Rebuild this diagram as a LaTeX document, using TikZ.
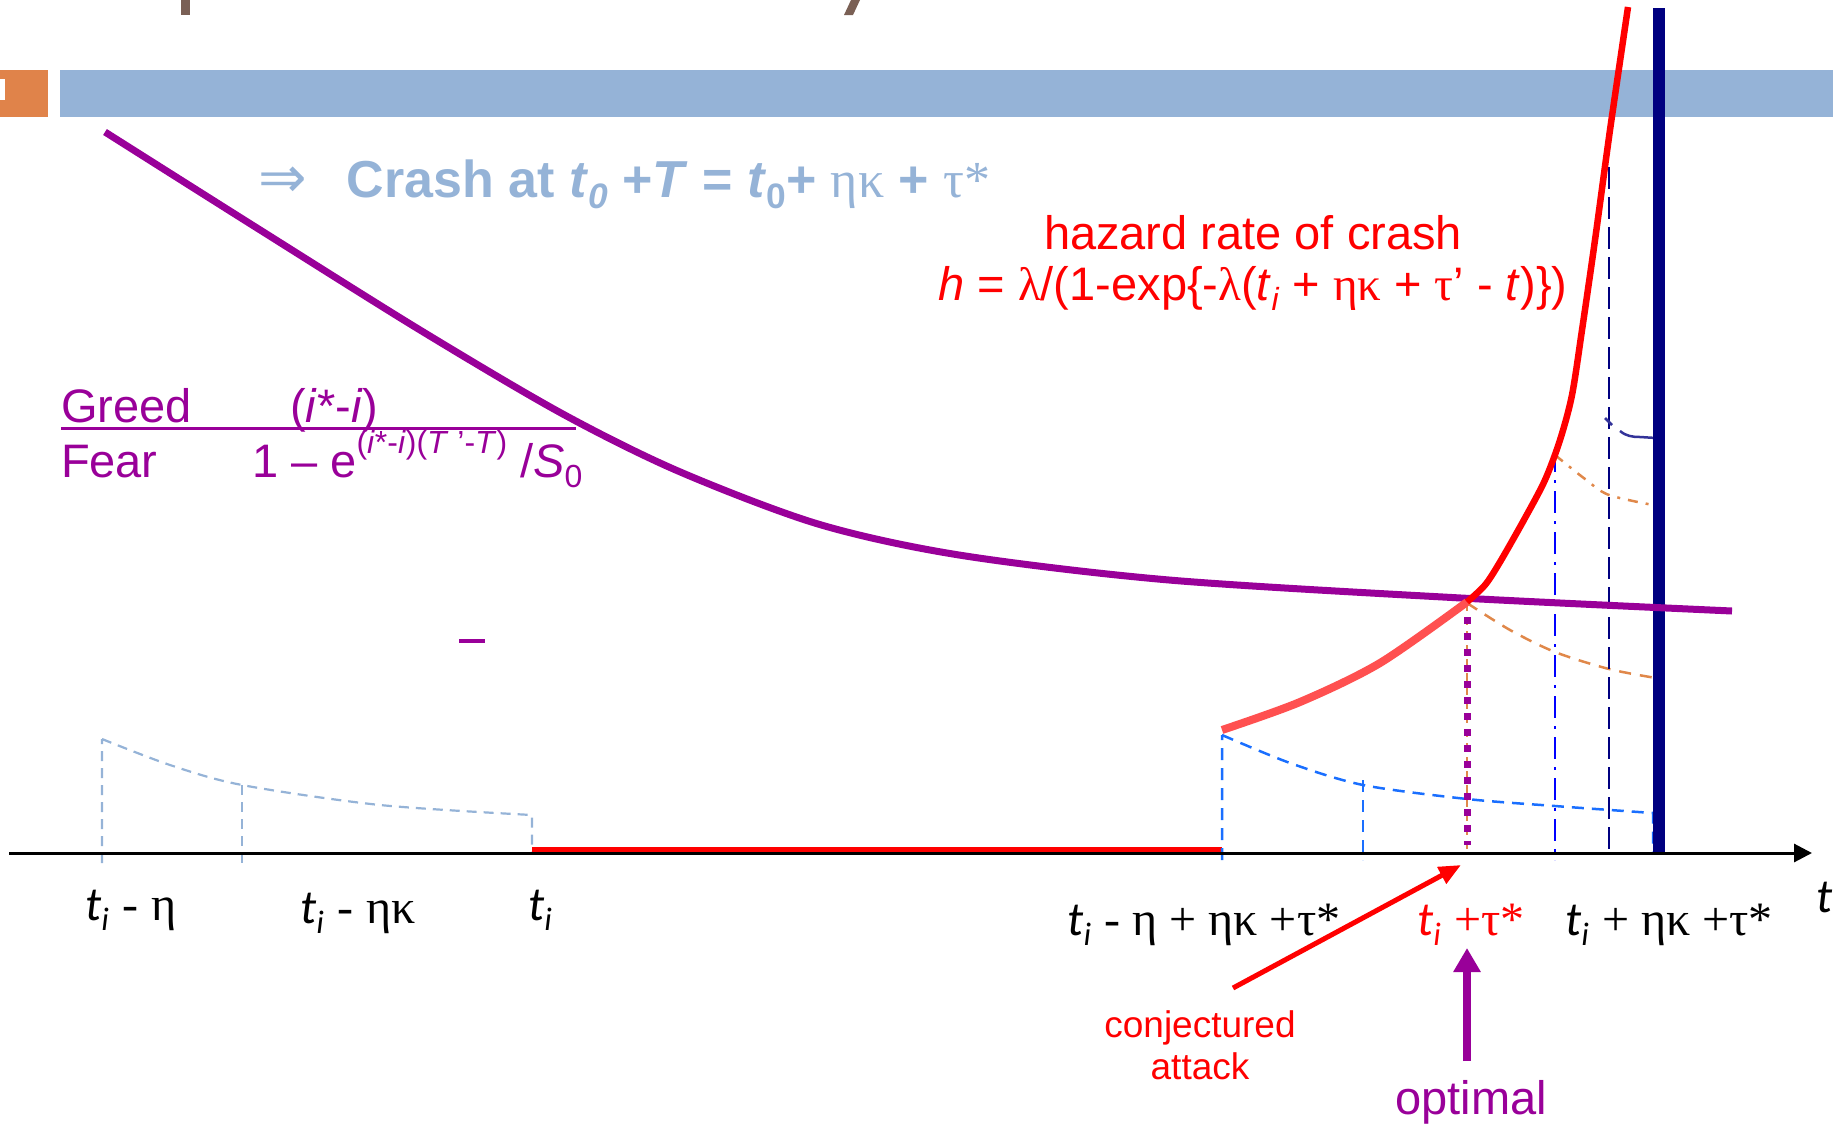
\documentclass[tikz,border=0pt]{standalone}
\usepackage{fontspec}
\usepackage{graphicx}
\setmainfont{Liberation Sans}
\newfontfamily\fgr{Liberation Serif}
\newfontfamily\fcb{Carlito}
\newfontfamily\fdj{DejaVu Sans}
\usetikzlibrary{arrows.meta}
\definecolor{barblue}{HTML}{95B3D7}
\definecolor{barorange}{HTML}{E0834A}
\definecolor{hbrown}{HTML}{7A6055}
\definecolor{purp}{HTML}{990099}
\definecolor{lred}{HTML}{FF5050}
\definecolor{navy}{HTML}{000080}
\definecolor{dblue}{HTML}{1A6FFF}
\definecolor{orng}{HTML}{E0884A}
\definecolor{squig}{HTML}{333399}
\newcommand\dn[1]{\raisebox{-0.22em}{\scalebox{0.68}{#1}}}
\newcommand\up[1]{\raisebox{0.5em}{\scalebox{0.68}{#1}}}
\newcommand\tlab[1]{{\fcb\itshape t}\dn{\fcb\itshape i}#1}
\begin{document}
\begin{tikzpicture}[x=1pt,y=-1pt,
  every node/.style={inner sep=0pt,outer sep=0pt},
  txt/.style={font=\fontsize{47}{52}\selectfont},
  lab/.style={font=\fontsize{48}{52}\selectfont},
  ltdash/.style={barblue,line width=2.2,dash pattern=on 10pt off 7pt},
  bldash/.style={dblue,line width=2.5,dash pattern=on 12pt off 8pt},
  ordash/.style={orng,line width=2.5,dash pattern=on 12pt off 9pt},
  ordot/.style={orng,line width=2.5,dash pattern=on 10pt off 8pt on 3pt off 8pt},
  bldot/.style={blue,line width=2.5,dash pattern=on 22pt off 8pt on 3pt off 8pt},
  nvdash/.style={navy,line width=2.5,dash pattern=on 22pt off 8pt}]
\useasboundingbox (0,0) rectangle (1833,1127);
% header fragments
\fill[hbrown] (181,0) rectangle (190,15);
\fill[hbrown] (851,0) -- (860,0) -- (853,15) -- (844,15) -- cycle;
\fill[barorange] (0,70) rectangle (48,117);
\fill[white] (0,79) rectangle (5,100);
\fill[barblue] (60,70) rectangle (1833,117);
% title line
\node[anchor=base west,text=barblue,font=\fontsize{52}{56}\selectfont] (crash) at (258,197)
  {{\fdj\fontsize{58}{60}\selectfont ⇒}\hspace{40pt}\bfseries Crash at \textit{t}\dn{\textit{0}} +\textit{T} = \textit{t}\dn{0}+ {\fgr\mdseries ηκ} + {\fgr\mdseries τ*}};
% hazard text
\node[anchor=base,text=red,txt] (hz1) at (1253,249) {hazard rate of crash};
\node[anchor=base,text=red,txt] (hz2) at (1253,300)
  {\textit{h} = {\fgr λ}/(1-exp\{-{\fgr λ}(\textit{t}\dn{\textit{i}} + {\fgr ηκ} + {\fgr τ}’ - \textit{t})\})};
% greed / fear
\node[anchor=base west,text=purp,txt] (greed) at (61,422) {Greed};
\node[anchor=base west,text=purp,txt] (gnum) at (290,422) {(\textit{i}*-\textit{i})};
\node[anchor=base west,text=purp,txt] (fear) at (61,477) {Fear};
\node[anchor=base west,text=purp,txt] (fden) at (252,477)
  {1 – e\up{(\textit{i}*-\textit{i})(\textit{T} ’-\textit{T})} /\textit{S}\dn{0}};
\coordinate (fl1) at (61,428); \coordinate (fl2) at (576,428);
\draw[purp,line width=3] (fl1) -- (fl2);
\coordinate (pd1) at (459,641); \coordinate (pd2) at (485,641);
\draw[purp,line width=4] (pd1) -- (pd2);
% left light-blue dashed
\draw[ltdash] (102,863) -- (102,739) plot[smooth] coordinates {(102,739) (170,765) (242,785) (380,805) (532,815)} -- (532,853);
\draw[ltdash] (242,785) -- (242,863);
% red flat segment
\draw[red,line width=5] (532,849) -- (1222,849);
% right blue dashed
\draw[bldash] (1222,860) -- (1222,735) plot[smooth] coordinates {(1222,735) (1290,763) (1363,785) (1467,799) (1555,806) (1610,810) (1653,813)} -- (1653,853);
\draw[bldash] (1363,780) -- (1363,860);
% orange dashed
\draw[ordash] plot[smooth] coordinates {(1467,603) (1510,630) (1555,652) (1609,669) (1656,678)} -- (1656,853);
\draw[orng,line width=2,dash pattern=on 8pt off 6pt] (1467,603) -- (1467,850);
\draw[ordot] plot[smooth] coordinates {(1555,455) (1585,479) (1609,495) (1658,506)};
% verticals
\draw[bldot] (1555,450) -- (1555,860);
\draw[nvdash] (1609,167) -- (1609,856);
\draw[squig,line width=2.5] (1605,418) -- (1612,425);
\draw[squig,line width=2.5] (1620,431) .. controls (1626,436) and (1632,437) .. (1640,437) -- (1656,438);
\draw[navy,line width=12] (1659,8) -- (1659,853);
% purple dotted
\draw[purp,line width=7,dash pattern=on 7pt off 9pt] (1467,617) -- (1467,845);
% axis
\coordinate (ax0) at (9,853); \coordinate (ax1) at (1812,853);
\draw[line width=3,-{Triangle[length=18pt,width=18pt]}] (ax0) -- (ax1);
% purple greed/fear curve
\draw[purp,line width=7] plot[smooth] coordinates {(105,132) (257,228) (420,330) (561,413) (678,471) (818,524) (959,555) (1169,580) (1461,598) (1732,611)};
% hazard curve
\draw[lred,line width=8] plot[smooth] coordinates {(1222,730) (1300,702) (1380,663) (1467,602)};
\draw[red,line width=6.5] plot[smooth] coordinates {(1467,602) (1485,585) (1500,562) (1525,518) (1545,480) (1560,440) (1572,395) (1582,330) (1595,240) (1610,130) (1628,7)};
% axis labels
\node[anchor=base,lab] (l1) at (131,920) {\tlab{ {\fgr -} {\fgr η}}};
\node[anchor=base,lab] (l2) at (358,923) {\tlab{ {\fgr -} {\fgr ηκ}}};
\node[anchor=base,lab] (l3) at (540,920) {\tlab{}};
\node[anchor=base,lab] (l4) at (1204,935) {\tlab{ {\fgr - η + ηκ +τ*}}};
\node[anchor=base,lab,text=red] (l5) at (1471,935) {\tlab{ {\fgr +τ*}}};
\node[anchor=base,lab] (l6) at (1669,935) {\tlab{ {\fgr + ηκ +τ*}}};
\node[anchor=base west,lab] (l7) at (1816,912) {{\fcb\itshape t}};
% conjectured attack
\node[anchor=base,text=red,font=\fontsize{37}{42}\selectfont] (conj) at (1200,1037) {conjectured};
\node[anchor=base,text=red,font=\fontsize{37}{42}\selectfont] (att) at (1200,1079) {attack};
\coordinate (ca0) at (1233,988); \coordinate (ca1) at (1461,865);
\draw[red,line width=5,-{Triangle[length=22pt,width=18pt]}] (ca0) -- (ca1);
% optimal
\node[anchor=base,text=purp,txt] (opt) at (1471,1114) {optimal};
\coordinate (op0) at (1467,1061); \coordinate (op1) at (1467,948);
\draw[purp,line width=8,-{Triangle[length=24pt,width=26pt]}] (op0) -- (op1);
\end{tikzpicture}
\end{document}
